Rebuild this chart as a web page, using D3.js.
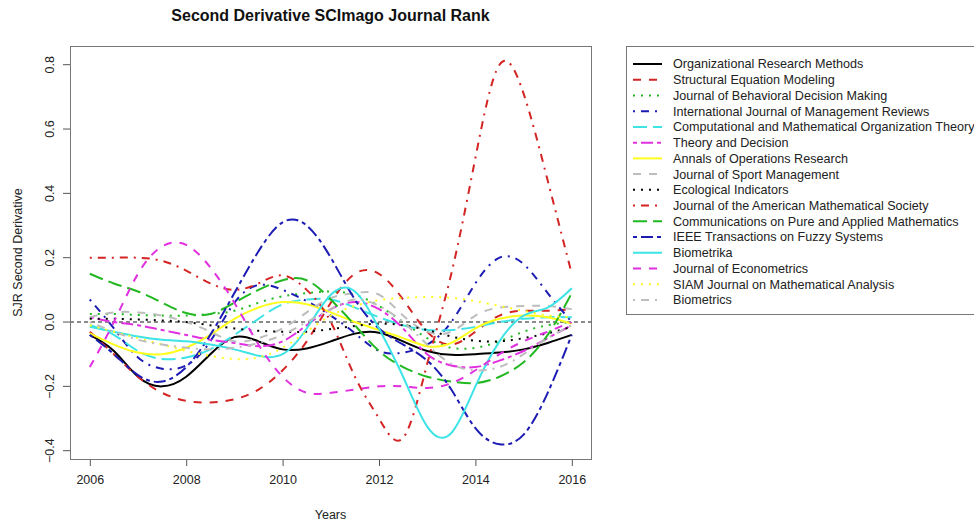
<!DOCTYPE html>
<html>
<head>
<meta charset="utf-8">
<script src="https://cdn.jsdelivr.net/npm/d3@7"></script>
<style>
  body { margin: 0; background: #fff; }
  svg { display: block; font-family: "Liberation Sans", Arial, sans-serif; }
</style>
</head>
<body>
<div id="vis"></div>
<script>
var years = [2006, 2006.5, 2007, 2007.5, 2008, 2008.5, 2009, 2009.5, 2010, 2010.5,
             2011, 2011.5, 2012, 2012.5, 2013, 2013.5, 2014, 2014.5, 2015, 2015.5, 2016];

var orm      = [-0.04, -0.09, -0.17, -0.2, -0.17, -0.1, -0.047, -0.06, -0.085, -0.082, -0.06, -0.036, -0.033, -0.06, -0.09, -0.102, -0.1, -0.095, -0.085, -0.065, -0.04];
var sem      = [-0.03, -0.1, -0.17, -0.22, -0.245, -0.25, -0.24, -0.21, -0.15, -0.06, 0.06, 0.15, 0.15, 0.07, -0.03, -0.07, -0.03, 0.02, 0.035, 0.035, 0.04];
var jbdm     = [0.025, 0.025, 0.022, 0.02, 0.02, 0.025, 0.035, 0.06, 0.08, 0.09, 0.095, 0.085, 0.05, 0.0, -0.05, -0.08, -0.08, -0.06, -0.03, -0.01, 0.0];
var ijmr     = [0.07, -0.02, -0.11, -0.145, -0.135, -0.06, 0.06, 0.115, 0.1, 0.065, 0.02, -0.035, -0.09, -0.095, -0.07, 0.0, 0.12, 0.2, 0.18, 0.09, 0.0];
var cmot     = [-0.01, -0.04, -0.09, -0.115, -0.11, -0.085, -0.04, 0.01, 0.055, 0.07, 0.07, 0.045, 0.015, -0.01, -0.025, -0.025, -0.015, 0.0, 0.01, 0.015, 0.015];
var theory   = [0.015, 0.0, -0.01, -0.025, -0.04, -0.055, -0.065, -0.075, -0.06, -0.01, 0.04, 0.062, 0.04, -0.02, -0.1, -0.135, -0.14, -0.12, -0.09, -0.05, -0.01];
var annals   = [-0.035, -0.07, -0.095, -0.1, -0.08, -0.04, 0.01, 0.045, 0.062, 0.055, 0.03, 0.0, -0.025, -0.05, -0.075, -0.065, -0.02, 0.01, 0.02, 0.015, -0.005];
var sport    = [0.015, 0.03, 0.03, 0.02, 0.0, -0.03, -0.06, -0.05, -0.02, 0.03, 0.075, 0.09, 0.085, 0.02, -0.03, -0.03, 0.02, 0.045, 0.05, 0.05, 0.04];
var ecol     = [0.01, 0.01, 0.008, 0.005, 0.0, -0.01, -0.02, -0.027, -0.03, -0.03, -0.022, -0.012, -0.005, -0.01, -0.025, -0.045, -0.058, -0.06, -0.05, -0.035, -0.015];
var jams     = [0.2, 0.2, 0.2, 0.19, 0.16, 0.12, 0.1, 0.12, 0.145, 0.1, 0.0, -0.17, -0.3, -0.36, -0.13, 0.15, 0.51, 0.8, 0.71, 0.44, 0.15];
var cpam     = [0.15, 0.12, 0.095, 0.06, 0.028, 0.025, 0.06, 0.1, 0.13, 0.13, 0.07, -0.01, -0.09, -0.14, -0.17, -0.185, -0.19, -0.17, -0.125, -0.04, 0.09];
var ieee     = [-0.04, -0.1, -0.165, -0.185, -0.14, -0.04, 0.09, 0.22, 0.31, 0.3, 0.2, 0.07, -0.02, -0.07, -0.12, -0.21, -0.33, -0.38, -0.35, -0.22, -0.04];
var biomka   = [-0.015, -0.03, -0.045, -0.055, -0.06, -0.07, -0.085, -0.105, -0.1, -0.02, 0.085, 0.095, -0.02, -0.17, -0.325, -0.345, -0.2, -0.06, 0.02, 0.045, 0.105];
var econ     = [-0.14, 0.0, 0.15, 0.235, 0.24, 0.17, 0.06, -0.07, -0.17, -0.22, -0.22, -0.21, -0.2, -0.2, -0.205, -0.19, -0.15, -0.1, -0.06, -0.03, 0.0];
var siam     = [-0.01, -0.03, -0.05, -0.07, -0.09, -0.105, -0.115, -0.11, -0.08, -0.03, 0.02, 0.05, 0.068, 0.075, 0.078, 0.075, 0.065, 0.05, 0.035, 0.02, 0.015];
var biomcs   = [0.0, -0.03, -0.055, -0.07, -0.08, -0.085, -0.08, -0.065, -0.04, 0.0, 0.04, 0.07, 0.05, 0.0, -0.07, -0.13, -0.15, -0.14, -0.1, -0.05, -0.01];

var names = ["Organizational Research Methods", "Structural Equation Modeling",
  "Journal of Behavioral Decision Making", "International Journal of Management Reviews",
  "Computational and Mathematical Organization Theory", "Theory and Decision",
  "Annals of Operations Research", "Journal of Sport Management", "Ecological Indicators",
  "Journal of the American Mathematical Society", "Communications on Pure and Applied Mathematics",
  "IEEE Transactions on Fuzzy Systems", "Biometrika", "Journal of Econometrics",
  "SIAM Journal on Mathematical Analysis", "Biometrics"];
var values = [orm, sem, jbdm, ijmr, cmot, theory, annals, sport, ecol, jams, cpam, ieee, biomka, econ, siam, biomcs];

var xTicks = [2006, 2008, 2010, 2012, 2014, 2016];
var yTicks = [-0.4, -0.2, 0.0, 0.2, 0.4, 0.6, 0.8];

// R default palette and line types, recycled
var palette = ["#000000", "#d42424", "#22b822", "#1c1cb4", "#3ee3e6", "#e030e0", "#ffff1e", "#bdbdbd"];
var dashes = ["", "8,8", "2,6", "2,6,8,6", "14,6", "4,4,12,4"];

var width = 974, height = 525;
var box = {left: 70, right: 591, top: 46, bottom: 459};

var svg = d3.select("#vis").append("svg")
    .attr("width", width)
    .attr("height", height);

var x = d3.scaleLinear().domain([2006, 2016]).range([89.8, 571.8]);
var y = d3.scaleLinear().domain([-0.4, 0.8]).range([450.7, 64.7]);

// axes
svg.append("g")
    .attr("transform", "translate(0," + box.bottom + ")")
    .call(d3.axisBottom(x).tickValues(xTicks).tickFormat(d3.format("d")).tickSize(7).tickPadding(9))
    .call(function(g) { g.select(".domain").remove(); })
    .call(function(g) { g.selectAll("line").attr("stroke", "#555"); })
    .call(function(g) { g.selectAll("text").attr("font-size", 12.5).attr("fill", "#222").attr("font-family", "Liberation Sans, Arial"); });

var yAxis = svg.append("g")
    .attr("transform", "translate(" + box.left + ",0)")
    .call(d3.axisLeft(y).tickValues(yTicks).tickFormat(d3.format(".1f")).tickSize(7))
    .call(function(g) { g.select(".domain").remove(); })
    .call(function(g) { g.selectAll("line").attr("stroke", "#555"); });

yAxis.selectAll("text")
    .attr("font-size", 12.5)
    .attr("fill", "#222")
    .attr("font-family", "Liberation Sans, Arial")
    .attr("text-anchor", "middle")
    .attr("dy", null)
    .attr("x", null)
    .attr("transform", function(d) { return "translate(-19," + y(d) + ") rotate(-90)"; })
    .attr("y", 0)
    .attr("dominant-baseline", "middle");
yAxis.selectAll(".tick").attr("transform", null);
yAxis.selectAll(".tick line").attr("transform", function(d) { return "translate(0," + y(d) + ")"; });

// zero reference line
svg.append("line")
    .attr("x1", box.left).attr("x2", box.right)
    .attr("y1", y(0)).attr("y2", y(0))
    .attr("stroke", "#666")
    .attr("stroke-width", 1.5)
    .attr("stroke-dasharray", "4,3");

var line = d3.line()
    .x(function(d) { return x(d[0]); })
    .y(function(d) { return y(d[1]); })
    .curve(d3.curveNatural);

svg.append("g")
  .selectAll("path")
  .data(values)
  .enter().append("path")
    .attr("d", function(v) { return line(years.map(function(yr, i) { return [yr, v[i]]; })); })
    .attr("fill", "none")
    .attr("stroke", function(v, i) { return palette[i % 8]; })
    .attr("stroke-width", 2)
    .attr("stroke-dasharray", function(v, i) { return dashes[i % 6] || null; });

// plot box
svg.append("rect")
    .attr("x", box.left + 0.5).attr("y", box.top + 0.5)
    .attr("width", box.right - box.left).attr("height", box.bottom - box.top)
    .attr("fill", "none")
    .attr("stroke", "#777");

// titles
svg.append("text")
    .attr("x", (box.left + box.right) / 2).attr("y", 21)
    .attr("text-anchor", "middle")
    .attr("font-size", 16).attr("font-weight", "bold")
    .attr("fill", "#111")
    .text("Second Derivative SCImago Journal Rank");

svg.append("text")
    .attr("x", (box.left + box.right) / 2).attr("y", 519)
    .attr("text-anchor", "middle")
    .attr("font-size", 12.5).attr("fill", "#222")
    .text("Years");

svg.append("text")
    .attr("transform", "translate(22," + (box.top + box.bottom) / 2 + ") rotate(-90)")
    .attr("text-anchor", "middle")
    .attr("font-size", 12.5).attr("fill", "#222")
    .text("SJR Second Derivative");

// legend
var legend = svg.append("g");
legend.append("rect")
    .attr("x", 626.5).attr("y", 46.5)
    .attr("width", 400).attr("height", 268)
    .attr("fill", "#fff")
    .attr("stroke", "#777");

var item = legend.selectAll("g.item")
    .data(names)
    .enter().append("g")
      .attr("class", "item")
      .attr("transform", function(d, i) { return "translate(0," + (64 + i * 15.73) + ")"; });

item.append("line")
    .attr("x1", 633).attr("x2", 662)
    .attr("stroke", function(d, i) { return palette[i % 8]; })
    .attr("stroke-width", 2)
    .attr("stroke-dasharray", function(d, i) { return dashes[i % 6] || null; });

item.append("text")
    .attr("x", 673)
    .attr("dy", "0.35em")
    .attr("font-size", 12.6)
    .attr("fill", "#222")
    .text(function(d) { return d; });
</script>
</body>
</html>
